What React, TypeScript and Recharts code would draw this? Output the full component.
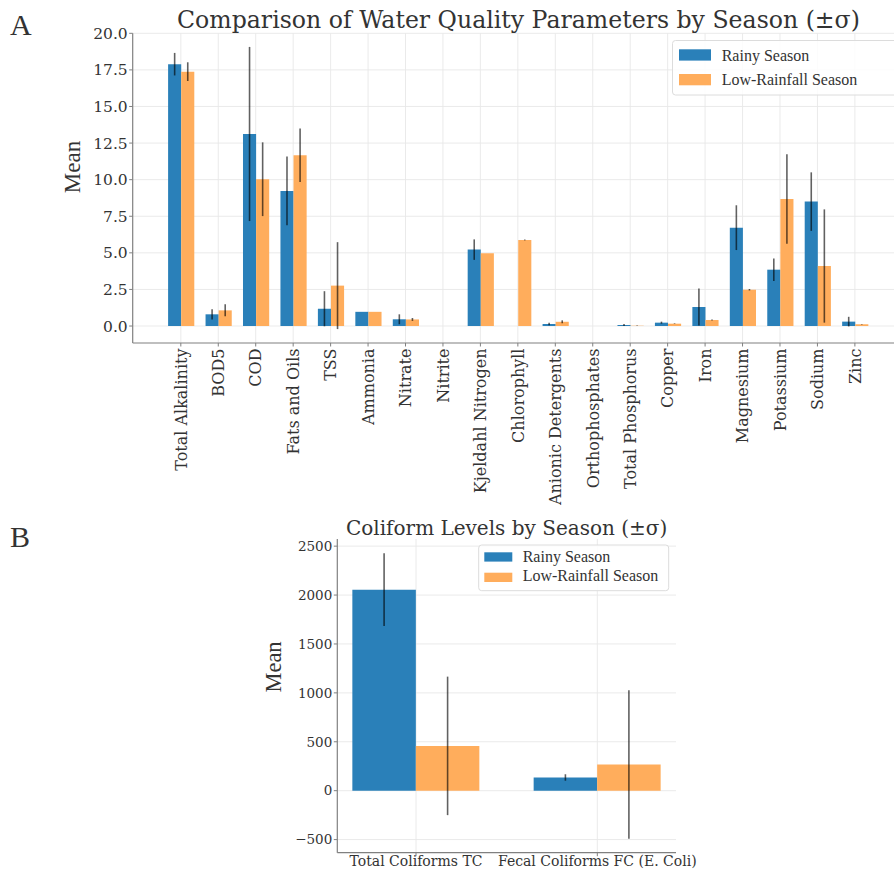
import React from 'react';
import { BarChart, Bar, XAxis, YAxis, CartesianGrid, ErrorBar } from 'recharts';

const seriesNames = ['Rainy Season', 'Low-Rainfall Season'];
const seriesColors = ['#2a80b9', '#ffad5c'];

const categories = [
  'Total Alkalinity', 'BOD5', 'COD', 'Fats and Oils', 'TSS', 'Ammonia', 'Nitrate', 'Nitrite',
  'Kjeldahl Nitrogen', 'Chlorophyll', 'Anionic Detergents', 'Orthophosphates', 'Total Phosphorus',
  'Copper', 'Iron', 'Magnesium', 'Potassium', 'Sodium', 'Zinc',
];
const rainyMean = [17.89, 0.8, 13.12, 9.23, 1.18, 0.97, 0.46, 0, 5.22, 0, 0.14, 0, 0.07, 0.23, 1.3, 6.72, 3.85, 8.5, 0.3];
const rainySd = [0.77, 0.35, 5.95, 2.35, 1.2, 0, 0.34, 0, 0.7, 0.02, 0.08, 0, 0.06, 0.07, 1.27, 1.53, 0.77, 2.0, 0.33];
const lowMean = [17.38, 1.07, 10.03, 11.67, 2.76, 0.97, 0.45, 0, 4.97, 5.88, 0.29, 0, 0.02, 0.16, 0.41, 2.48, 8.68, 4.1, 0.12];
const lowSd = [0.64, 0.41, 2.52, 1.83, 2.97, 0, 0.1, 0, 0, 0.03, 0.1, 0, 0.01, 0.02, 0.03, 0.05, 3.06, 3.87, 0.02];
const yTicksA = [0, 2.5, 5, 7.5, 10, 12.5, 15, 17.5, 20];

const coliformCategories = ['Total Coliforms TC', 'Fecal Coliforms FC (E. Coli)'];
const coliformRainyMean = [2055, 135];
const coliformRainySd = [372, 33];
const coliformLowMean = [458, 268];
const coliformLowSd = [708, 760];
const yTicksB = [-500, 0, 500, 1000, 1500, 2000, 2500];

const dataA = categories.map((c, i) => ({
  name: c, rainy: rainyMean[i], rainySd: rainySd[i], low: lowMean[i], lowSd: lowSd[i],
}));
const dataB = coliformCategories.map((c, i) => ({
  name: c, rainy: coliformRainyMean[i], rainySd: coliformRainySd[i], low: coliformLowMean[i], lowSd: coliformLowSd[i],
}));

const TICK_FONT = '"DejaVu Serif", serif';
const LABEL_FONT = '"Liberation Serif", "Times New Roman", serif';
const TEXT = '#333333';
const SPINE = '#808080';
const GRID = '#e8e8e8';

const RotTick = (props: any) => {
  const { x, y, payload } = props;
  return (
    <g transform={`translate(${x},${y})`}>
      <text
        transform="rotate(-90)"
        x={-1}
        y={0}
        dy="0.36em"
        textAnchor="end"
        fontFamily={TICK_FONT}
        fontSize={16}
        fill={TEXT}
      >
        {payload.value}
      </text>
    </g>
  );
};

const fmtA = (v: number) => v.toFixed(1);
const fmtB = (v: number) => (v < 0 ? '\u2212' + Math.abs(v) : String(v));

const errStyle = { stroke: '#000', strokeOpacity: 0.62, strokeWidth: 1.6 };

export default function App() {
  return (
    <div style={{ position: 'absolute', left: 0, top: 0, width: 894, height: 872, overflow: 'hidden', background: '#fff' }}>
      <div style={{ position: 'absolute', left: 0, top: 0 }}>
        <BarChart
          width={920}
          height={510}
          data={dataA}
          margin={{ top: 33.3, right: 17, left: 72.7, bottom: 7 }}
          barGap={0}
        >
          <CartesianGrid stroke={GRID} strokeWidth={0.9} syncWithTicks />
          <XAxis
            dataKey="name"
            interval={0}
            height={160}
            padding={{ left: 29.4, right: 29.4 }}
            tick={<RotTick />}
            tickSize={3.5}
            tickMargin={1}
            axisLine={{ stroke: SPINE, strokeWidth: 1.2 }}
            tickLine={{ stroke: SPINE }}
          />
          <YAxis
            width={60}
            type="number"
            domain={[-1.16, 20]}
            allowDataOverflow
            ticks={yTicksA}
            tickFormatter={fmtA}
            tickSize={3.5}
            tickMargin={1.5}
            tick={{ fontFamily: TICK_FONT, fontSize: 15.5, fill: TEXT }}
            axisLine={{ stroke: SPINE, strokeWidth: 1.2 }}
            tickLine={{ stroke: SPINE }}
          />
          <Bar dataKey="rainy" name={seriesNames[0]} fill={seriesColors[0]} barSize={13.1} isAnimationActive={false}>
            <ErrorBar dataKey="rainySd" width={0} direction="y" isAnimationActive={false} {...errStyle} />
          </Bar>
          <Bar dataKey="low" name={seriesNames[1]} fill={seriesColors[1]} barSize={13.1} isAnimationActive={false}>
            <ErrorBar dataKey="lowSd" width={0} direction="y" isAnimationActive={false} {...errStyle} />
          </Bar>
        </BarChart>
      </div>

      <div style={{ position: 'absolute', left: 0, top: 500 }}>
        <BarChart
          width={720}
          height={372}
          data={dataB}
          margin={{ top: 39, right: 44, left: 287.3, bottom: 0 }}
          barGap={0}
        >
          <CartesianGrid stroke={GRID} strokeWidth={0.9} syncWithTicks />
          <XAxis
            dataKey="name"
            interval={0}
            height={19.3}
            padding={{ left: -11.95, right: -11.95 }}
            tickSize={3.5}
            tickMargin={0}
            tick={{ fontFamily: TICK_FONT, fontSize: 14, fill: TEXT }}
            axisLine={{ stroke: SPINE, strokeWidth: 1.2 }}
            tickLine={{ stroke: SPINE }}
          />
          <YAxis
            width={50}
            type="number"
            domain={[-634, 2573]}
            allowDataOverflow
            ticks={yTicksB}
            tickFormatter={fmtB}
            tickSize={3.5}
            tickMargin={1.5}
            tick={{ fontFamily: TICK_FONT, fontSize: 13.5, fill: TEXT }}
            axisLine={{ stroke: SPINE, strokeWidth: 1.2 }}
            tickLine={{ stroke: SPINE }}
          />
          <Bar dataKey="rainy" name={seriesNames[0]} fill={seriesColors[0]} barSize={63.5} isAnimationActive={false}>
            <ErrorBar dataKey="rainySd" width={0} direction="y" isAnimationActive={false} {...errStyle} />
          </Bar>
          <Bar dataKey="low" name={seriesNames[1]} fill={seriesColors[1]} barSize={63.5} isAnimationActive={false}>
            <ErrorBar dataKey="lowSd" width={0} direction="y" isAnimationActive={false} {...errStyle} />
          </Bar>
        </BarChart>
      </div>

      <svg width={894} height={872} style={{ position: 'absolute', left: 0, top: 0, pointerEvents: 'none' }}>
        <text x={10} y={35} fontFamily={LABEL_FONT} fontSize={30} fill={TEXT}>A</text>
        <text x={10} y={547} fontFamily={LABEL_FONT} fontSize={30} fill={TEXT}>B</text>

        <text x={518.5} y={28.3} textAnchor="middle" fontFamily={TICK_FONT} fontSize={23.6} fill={TEXT}>
          Comparison of Water Quality Parameters by Season (±σ)
        </text>
        <text x={506.6} y={535} textAnchor="middle" fontFamily={TICK_FONT} fontSize={20} fill={TEXT}>
          Coliform Levels by Season (±σ)
        </text>

        <text transform="translate(80,167) rotate(-90)" textAnchor="middle" fontFamily={LABEL_FONT} fontSize={23} fill={TEXT}>Mean</text>
        <text transform="translate(281,667) rotate(-90)" textAnchor="middle" fontFamily={LABEL_FONT} fontSize={22.5} fill={TEXT}>Mean</text>

        <rect x={672.5} y={40.5} width={240} height={54.5} rx={3} fill="#fff" fillOpacity={0.85} stroke="#dcdcdc" />
        {seriesNames.map((n, i) => (
          <g key={'la' + i}>
            <rect x={679} y={49.3 + i * 24.7} width={32} height={11.3} fill={seriesColors[i]} />
            <text x={721.7} y={60.7 + i * 24.5} fontFamily={LABEL_FONT} fontSize={16} fill={TEXT}>{n}</text>
          </g>
        ))}

        <rect x={478.7} y={545} width={190} height={45.7} rx={3} fill="#fff" fillOpacity={0.85} stroke="#dcdcdc" />
        {seriesNames.map((n, i) => (
          <g key={'lb' + i}>
            <rect x={484.3} y={552.3 + i * 20.4} width={28} height={9.3} fill={seriesColors[i]} />
            <text x={522.7} y={561.7 + i * 19.5} fontFamily={LABEL_FONT} fontSize={16} fill={TEXT}>{n}</text>
          </g>
        ))}
      </svg>
    </div>
  );
}
